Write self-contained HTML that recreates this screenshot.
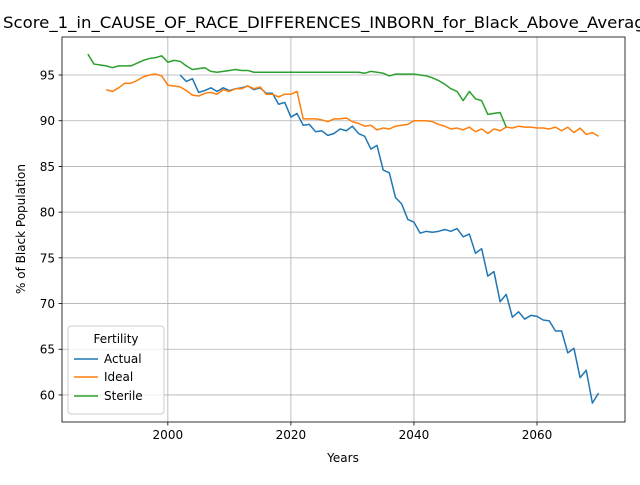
<!DOCTYPE html>
<html><head><meta charset="utf-8"><style>
body{margin:0;background:#fff;}
svg text{font-family:"DejaVu Sans","Liberation Sans",sans-serif;}
</style></head><body>
<svg width="640" height="480" xmlns="http://www.w3.org/2000/svg">
<rect width="640" height="480" fill="#fff"/>
<g id="grid"></g>
<g id="lines"></g>
<rect x="62" y="37" width="563" height="385" fill="none" stroke="#000" stroke-width="0.8"/>
<g id="ticks"></g>
<text x="3" y="28" font-size="16" textLength="652" lengthAdjust="spacingAndGlyphs">Score_1_in_CAUSE_OF_RACE_DIFFERENCES_INBORN_for_Black_Above_Average</text>
<text x="343" y="462" font-size="12" text-anchor="middle">Years</text>
<text x="25" y="229" font-size="12" text-anchor="middle" transform="rotate(-90 25 229)">% of Black Population</text>
<g>
<rect x="68" y="326" width="96" height="88" rx="3" fill="#fff" fill-opacity="0.8" stroke="#ccc"/>
<text x="116" y="343" font-size="12" text-anchor="middle">Fertility</text>
<g><line x1="74" y1="359" x2="98" y2="359" stroke="#1f77b4" stroke-width="1.5"/><text x="104" y="363" font-size="12">Actual</text></g>
<g><line x1="74" y1="377" x2="98" y2="377" stroke="#ff7f0e" stroke-width="1.5"/><text x="104" y="381" font-size="12">Ideal</text></g>
<g><line x1="74" y1="396" x2="98" y2="396" stroke="#2ca02c" stroke-width="1.5"/><text x="104" y="400" font-size="12">Sterile</text></g>
</g>
</svg>
<script>
const actualStart = 2002;
const actualValues = [95.0,94.3,94.6,93.1,93.3,93.6,93.2,93.6,93.3,93.5,93.6,93.8,93.4,93.6,93.0,93.0,91.8,92.0,90.4,90.8,89.5,89.6,88.8,88.9,88.4,88.6,89.1,88.9,89.4,88.6,88.3,86.9,87.3,84.6,84.3,81.6,80.9,79.2,78.9,77.7,77.9,77.8,77.9,78.1,77.9,78.2,77.3,77.6,75.5,76.0,73.0,73.5,70.2,71.0,68.5,69.1,68.3,68.7,68.6,68.2,68.1,67.0,67.0,64.6,65.1,61.9,62.7,59.1,60.2];
const idealStart = 1990;
const idealValues = [93.4,93.2,93.6,94.1,94.1,94.4,94.8,95.0,95.1,94.9,93.9,93.8,93.7,93.3,92.8,92.7,93.0,93.1,92.9,93.4,93.2,93.5,93.5,93.8,93.5,93.7,92.9,92.9,92.6,92.9,92.9,93.2,90.2,90.2,90.2,90.1,89.9,90.2,90.2,90.3,89.9,89.7,89.4,89.5,89.0,89.2,89.1,89.4,89.5,89.6,90.0,90.0,90.0,89.9,89.6,89.4,89.1,89.2,89.0,89.3,88.8,89.1,88.6,89.1,88.9,89.3,89.2,89.4,89.3,89.3,89.2,89.2,89.1,89.3,88.9,89.3,88.7,89.2,88.5,88.7,88.3];
const sterileStart = 1987;
const sterileValues = [97.3,96.2,96.1,96.0,95.8,96.0,96.0,96.0,96.3,96.6,96.8,96.9,97.1,96.4,96.6,96.5,96.0,95.6,95.7,95.8,95.4,95.3,95.4,95.5,95.6,95.5,95.5,95.3,95.3,95.3,95.3,95.3,95.3,95.3,95.3,95.3,95.3,95.3,95.3,95.3,95.3,95.3,95.3,95.3,95.3,95.2,95.4,95.3,95.2,94.9,95.1,95.1,95.1,95.1,95.0,94.9,94.7,94.4,94.0,93.5,93.2,92.2,93.2,92.4,92.2,90.7,90.8,90.9,89.3];
const xTicks = [2000,2020,2040,2060];
const yTicks = [60,65,70,75,80,85,90,95];

const X0=62,X1=625,Y0=37,Y1=422, xMin=1982.8,xMax=2074.3,yMin=57.04,yMax=99.16;
function sx(v){return X0+(v-xMin)/(xMax-xMin)*(X1-X0);}
function sy(v){return Y1-(v-yMin)/(yMax-yMin)*(Y1-Y0);}
const NS='http://www.w3.org/2000/svg';
const grid=document.getElementById('grid'), ticks=document.getElementById('ticks'), lines=document.getElementById('lines');
function mk(tag,attrs,parent){const e=document.createElementNS(NS,tag);for(const k in attrs)e.setAttribute(k,attrs[k]);parent.appendChild(e);return e;}
xTicks.forEach(t=>{
  const x=sx(t);
  const g=mk('line',{x1:x,x2:x,y1:Y0,y2:Y1,stroke:'#b0b0b0','stroke-width':0.8},grid);
  
  
  mk('line',{x1:x,x2:x,y1:Y1,y2:Y1+3.5,stroke:'#000','stroke-width':0.8},ticks);
  const tx=mk('text',{x:x,y:Y1+17,'font-size':12,'text-anchor':'middle'},ticks);
  tx.textContent=t;
  
  
});
yTicks.forEach(t=>{
  const y=sy(t);
  const g=mk('line',{x1:X0,x2:X1,y1:y,y2:y,stroke:'#b0b0b0','stroke-width':0.8},grid);
  
  
  mk('line',{x1:X0-3.5,x2:X0,y1:y,y2:y,stroke:'#000','stroke-width':0.8},ticks);
  const tx=mk('text',{x:X0-7,y:y+4.5,'font-size':12,'text-anchor':'end'},ticks);
  tx.textContent=t;
  
  
});
function series(start,vals,color,name){
  const pts=vals.map((v,i)=>sx(start+i).toFixed(2)+','+sy(v).toFixed(2)).join(' ');
  const p=mk('polyline',{points:pts,fill:'none',stroke:color,'stroke-width':1.5,'stroke-linejoin':'round'},lines);
  
  
}
series(actualStart,actualValues,'#1f77b4','actual-line');
series(idealStart,idealValues,'#ff7f0e','ideal-line');
series(sterileStart,sterileValues,'#2ca02c','sterile-line');
</script>
</body></html>
